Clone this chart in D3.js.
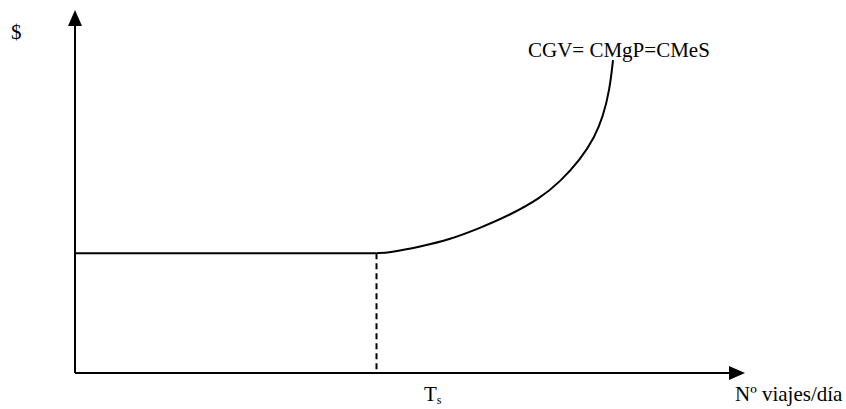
<!DOCTYPE html>
<html>
<head>
<meta charset="utf-8">
<script src="https://cdn.jsdelivr.net/npm/d3@7"></script>
<style>
  body { margin: 0; background: #fff; }
</style>
</head>
<body>
<div id="wrapper"></div>
<script>
// data (x: viajes/día 0..100, y: $ 0..100)
const flatLevel = 33
const tsValue = 45
const curveX = [45, 47.0, 51.5, 56.0, 60.4, 64.9, 69.4, 72.4, 75.4, 77.6, 78.8, 79.8, 80.3]
const curveY = [33, 33.2, 34.8, 36.8, 39.9, 43.5, 48.1, 52.7, 58.7, 65.1, 70.6, 78.0, 86.2]
const curveLabel = "CGV= CMgP=CMeS"
const yLabel = "$"
const xLabel = "Nº viajes/día"

const serif = "'Liberation Serif', 'Times New Roman', serif"

const dimension = {
    width: 846,
    height: 409,
    margin: { top: 10, right: 101, bottom: 36, left: 75 },
}
dimension.boundedWidth = dimension.width - dimension.margin.left - dimension.margin.right
dimension.boundedHeight = dimension.height - dimension.margin.top - dimension.margin.bottom

const wrapper = d3.select("#wrapper")
    .append("svg")
    .attr("width", dimension.width)
    .attr("height", dimension.height)

const bounds = wrapper.append("g")
    .attr("transform", `translate(${dimension.margin.left},${dimension.margin.top})`)

const xScaler = d3.scaleLinear().domain([0, 100]).range([0, dimension.boundedWidth])
const yScaler = d3.scaleLinear().domain([0, 100]).range([dimension.boundedHeight, 0])

// axes with arrow heads
const x0 = xScaler(0), y0 = yScaler(0)
bounds.append("line")
    .attr("x1", x0).attr("x2", x0)
    .attr("y1", y0).attr("y2", yScaler(100) + 12)
    .attr("stroke", "#000").attr("stroke-width", 2)
bounds.append("path")
    .attr("d", `M${x0},${yScaler(100)} L${x0 - 7},${yScaler(100) + 16} L${x0 + 7},${yScaler(100) + 16} Z`)
    .attr("fill", "#000")

bounds.append("line")
    .attr("x1", x0).attr("x2", xScaler(100) - 12)
    .attr("y1", y0).attr("y2", y0)
    .attr("stroke", "#000").attr("stroke-width", 2)
bounds.append("path")
    .attr("d", `M${xScaler(100)},${y0} L${xScaler(100) - 16},${y0 - 7} L${xScaler(100) - 16},${y0 + 7} Z`)
    .attr("fill", "#000")

// flat segment
bounds.append("line")
    .attr("x1", xScaler(0)).attr("x2", xScaler(tsValue))
    .attr("y1", yScaler(flatLevel)).attr("y2", yScaler(flatLevel))
    .attr("stroke", "#000").attr("stroke-width", 2)

// dashed Ts line
bounds.append("line")
    .attr("x1", xScaler(tsValue)).attr("x2", xScaler(tsValue))
    .attr("y1", yScaler(flatLevel)).attr("y2", y0)
    .attr("stroke", "#000").attr("stroke-width", 2)
    .attr("stroke-dasharray", "6 4")

// rising curve (smoothed through the read points)
const pts = curveX.map((x, i) => [x, curveY[i]])
const lineGen = d3.line()
    .x(d => xScaler(d[0]))
    .y(d => yScaler(d[1]))
    .curve(d3.curveBasis)
bounds.append("path")
    .attr("d", lineGen(pts))
    .attr("fill", "none")
    .attr("stroke", "#000")
    .attr("stroke-width", 2)

// labels
function label(x, y, txt) {
    return wrapper.append("text")
        .attr("x", x).attr("y", y)
        .attr("font-family", serif)
        .attr("font-size", "21px")
        .attr("fill", "#000")
        .text(txt)
}
label(11, 39, yLabel)
label(528, 57, curveLabel)
label(735, 401, xLabel)

const ts = label(424, 401, "T")
ts.append("tspan").attr("font-size", "12px").attr("dy", 3).text("s")
</script>
</body>
</html>
